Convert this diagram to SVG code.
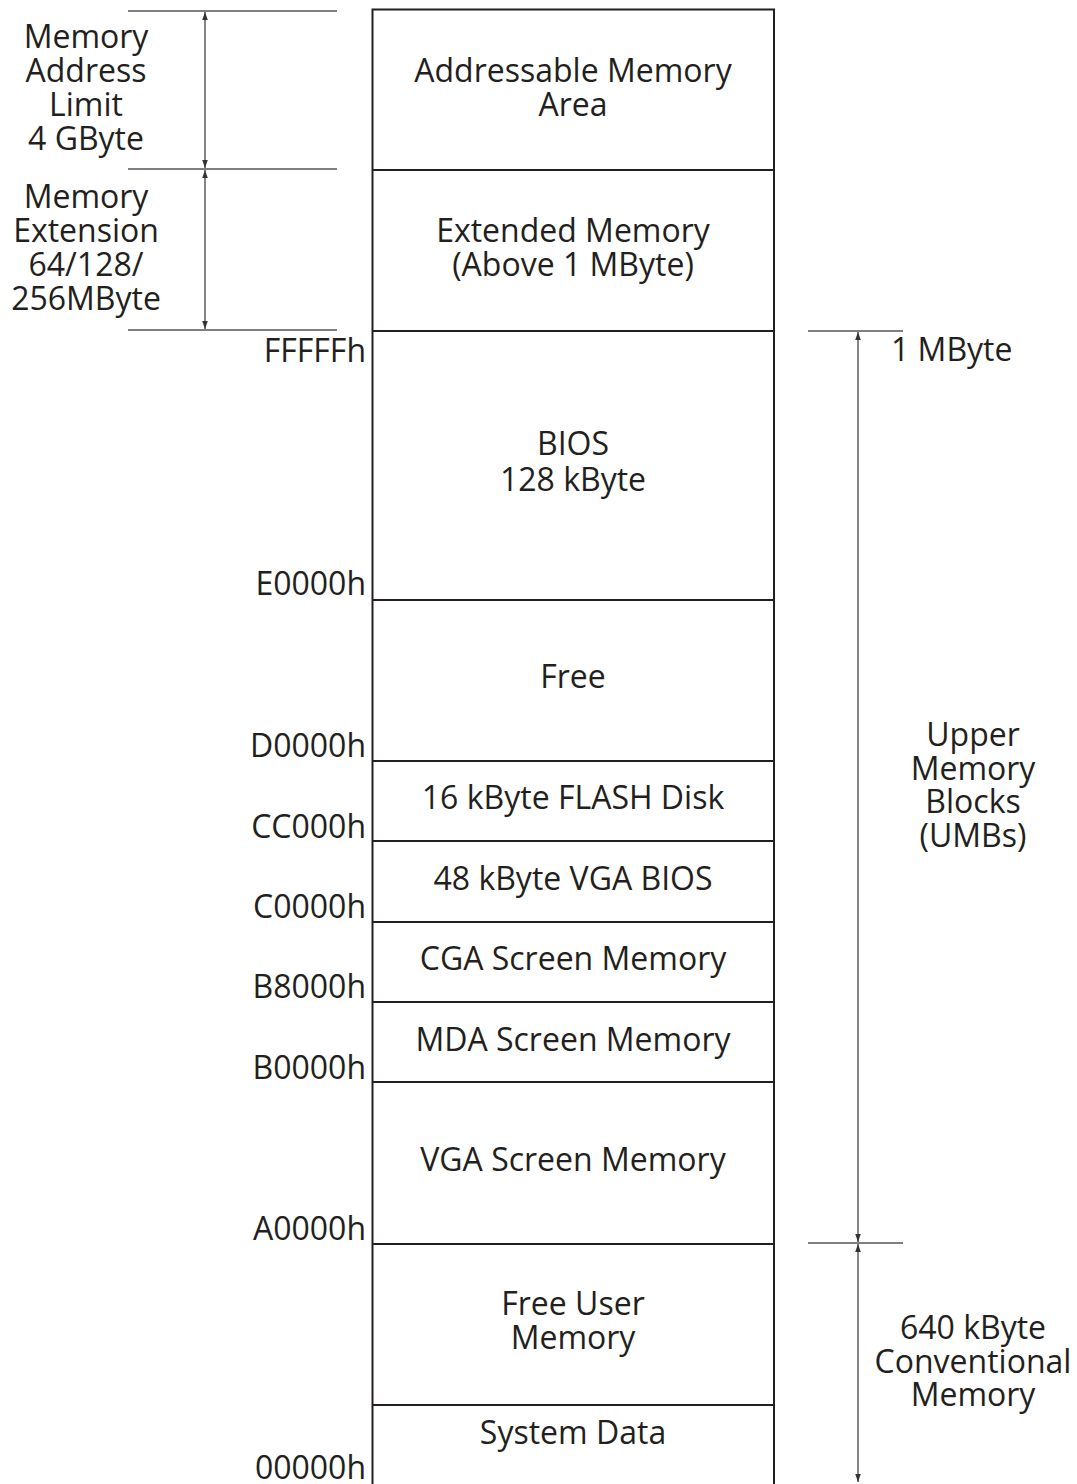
<svg xmlns="http://www.w3.org/2000/svg" width="1077" height="1484" viewBox="0 0 1077 1484">
<style>
text{font-family:"Open Sans","Noto Sans",sans-serif;font-size:32px;fill:#231f20}
.c{text-anchor:middle}
.r{text-anchor:end}
.box{fill:none;stroke:#231f20;stroke-width:2}
.div{stroke:#231f20;stroke-width:2}
.tick{stroke:#555;stroke-width:1.3}
.dim{stroke:#333;stroke-width:1.2;fill:none}
</style>
<defs>
<marker id="ah" viewBox="0 0 10 10" refX="10" refY="5" markerWidth="8" markerHeight="8" markerUnits="userSpaceOnUse" orient="auto-start-reverse">
<path d="M0,1.5 L10,5 L0,8.5 z" fill="#333"/>
</marker>
</defs>
<rect fill="#fff" width="1077" height="1484"/>
<g id="memory-column">
<path class="box" d="M372.5,1484 V9.5 H774 V1484"/>
</g>
<g id="addressable"><text class="c" x="573" y="82">Addressable Memory</text><text class="c" x="573" y="116">Area</text></g>
<g id="extended"><line class="div" x1="372" y1="170" x2="774" y2="170"/><text class="c" x="573" y="242">Extended Memory</text><text class="c" x="573" y="276">(Above 1 MByte)</text></g>
<g id="bios"><line class="div" x1="372" y1="331" x2="774" y2="331"/><text class="c" x="573" y="455">BIOS</text><text class="c" x="573" y="491">128 kByte</text></g>
<g id="free"><line class="div" x1="372" y1="600" x2="774" y2="600"/><text class="c" x="573" y="688">Free</text></g>
<g id="flash"><line class="div" x1="372" y1="761" x2="774" y2="761"/><text class="c" x="573" y="809">16 kByte FLASH Disk</text></g>
<g id="vgabios"><line class="div" x1="372" y1="841" x2="774" y2="841"/><text class="c" x="573" y="890">48 kByte VGA BIOS</text></g>
<g id="cga"><line class="div" x1="372" y1="922" x2="774" y2="922"/><text class="c" x="573" y="970">CGA Screen Memory</text></g>
<g id="mda"><line class="div" x1="372" y1="1002" x2="774" y2="1002"/><text class="c" x="573" y="1051">MDA Screen Memory</text></g>
<g id="vga"><line class="div" x1="372" y1="1082" x2="774" y2="1082"/><text class="c" x="573" y="1171">VGA Screen Memory</text></g>
<g id="freeuser"><line class="div" x1="372" y1="1244" x2="774" y2="1244"/><text class="c" x="573" y="1315">Free User</text><text class="c" x="573" y="1349">Memory</text></g>
<g id="sysdata"><line class="div" x1="372" y1="1405" x2="774" y2="1405"/><text class="c" x="573" y="1444">System Data</text></g>
<g id="addresses">
<text class="r" x="366" y="362">FFFFFh</text>
<text class="r" x="366" y="595">E0000h</text>
<text class="r" x="366" y="757">D0000h</text>
<text class="r" x="366" y="838">CC000h</text>
<text class="r" x="366" y="918">C0000h</text>
<text class="r" x="366" y="998">B8000h</text>
<text class="r" x="366" y="1079">B0000h</text>
<text class="r" x="366" y="1240">A0000h</text>
<text class="r" x="366" y="1479">00000h</text>
</g>
<g id="left-labels">
<text class="c" x="86" y="48">Memory</text><text class="c" x="86" y="82">Address</text><text class="c" x="86" y="116">Limit</text><text class="c" x="86" y="150">4 GByte</text>
<text class="c" x="86" y="208">Memory</text><text class="c" x="86" y="242">Extension</text><text class="c" x="86" y="276">64/128/</text><text class="c" x="86" y="310">256MByte</text>
</g>
<g id="right-labels">
<text x="891" y="361">1 MByte</text>
<text class="c" x="973" y="746">Upper</text><text class="c" x="973" y="780">Memory</text><text class="c" x="973" y="813">Blocks</text><text class="c" x="973" y="847">(UMBs)</text>
<text class="c" x="973" y="1339">640 kByte</text><text class="c" x="973" y="1373">Conventional</text><text class="c" x="973" y="1406">Memory</text>
</g>
<g id="connectors">
<line class="tick" x1="128" y1="11" x2="337" y2="11"/>
<line class="tick" x1="128" y1="169" x2="337" y2="169"/>
<line class="tick" x1="128" y1="330" x2="337" y2="330"/>
<line class="dim" x1="205" y1="12" x2="205" y2="168" marker-start="url(#ah)" marker-end="url(#ah)"/>
<line class="dim" x1="205" y1="170" x2="205" y2="329" marker-start="url(#ah)" marker-end="url(#ah)"/>
<line class="tick" x1="808" y1="331" x2="903" y2="331"/>
<line class="tick" x1="808" y1="1243" x2="903" y2="1243"/>
<line class="dim" x1="858" y1="332" x2="858" y2="1242" marker-start="url(#ah)" marker-end="url(#ah)"/>
<line class="dim" x1="858" y1="1244" x2="858" y2="1482" marker-start="url(#ah)" marker-end="url(#ah)"/>
</g>
</svg>
